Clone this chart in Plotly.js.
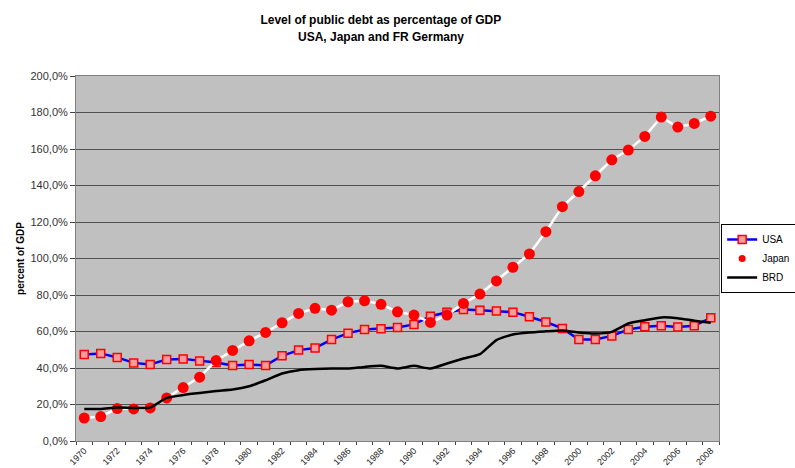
<!DOCTYPE html>
<html>
<head>
<meta charset="utf-8">
<script src="https://cdn.plot.ly/plotly-3.0.1.min.js"></script>
<style>html,body{margin:0;padding:0;background:#fff;}#chart{width:795px;height:468px;}</style>
</head>
<body>
<div id="chart"></div>
<script>
const years = [1970,1971,1972,1973,1974,1975,1976,1977,1978,1979,1980,1981,1982,1983,1984,1985,1986,1987,1988,1989,1990,1991,1992,1993,1994,1995,1996,1997,1998,1999,2000,2001,2002,2003,2004,2005,2006,2007,2008];
const usa = [47.4,48.0,45.8,42.8,41.9,44.7,45.0,43.9,43.0,41.4,41.9,41.4,46.7,49.8,51.0,55.6,59.1,61.1,61.5,62.2,63.9,68.4,70.5,72.1,71.7,71.2,70.6,68.1,65.2,61.7,55.6,55.6,57.6,61.1,62.6,63.1,62.4,63.1,67.5];
const japan = [12.6,13.4,17.8,17.6,18.1,23.6,29.3,35.0,44.1,49.6,54.9,59.5,64.8,69.9,72.7,71.7,76.3,76.8,74.9,70.8,69.0,65.0,69.0,75.4,80.5,87.7,95.2,102.5,114.7,128.4,136.7,145.3,154.1,159.4,166.9,177.5,172.0,174.0,178.0];
const brd = [17.6,17.6,18.3,18.1,18.3,23.6,25.2,26.3,27.4,28.2,30.0,33.3,37.0,38.8,39.4,39.7,39.7,40.6,41.2,39.7,41.2,39.7,42.5,45.2,47.6,55.3,58.4,59.5,60.1,60.6,59.5,58.9,59.8,64.4,66.2,67.7,67.3,65.9,64.8];
const yTickVals = [0,20,40,60,80,100,120,140,160,180,200];
const yTickText = ["0,0%","20,0%","40,0%","60,0%","80,0%","100,0%","120,0%","140,0%","160,0%","180,0%","200,0%"];
const xTickVals = [1970,1972,1974,1976,1978,1980,1982,1984,1986,1988,1990,1992,1994,1996,1998,2000,2002,2004,2006,2008];
const xTickText = xTickVals.map(String);
const titleLine1 = 'Level of public debt as percentage of GDP';
const titleLine2 = 'USA, Japan and FR Germany';

const usaMarker = {symbol: 'square', size: 8, color: '#FF9A9A', line: {color: '#FF0000', width: 1.5}};
const traces = [
  {x: years, y: usa, name: 'USA', type: 'scatter', mode: 'lines+markers', legendrank: 1,
   line: {color: '#0000FF', width: 2.5}, marker: usaMarker},
  {x: years, y: japan, name: 'Japan', type: 'scatter', mode: 'lines+markers', showlegend: false,
   line: {color: '#FFFFFF', width: 2.5},
   marker: {symbol: 'circle', size: 11, color: '#FF0000'}},
  {x: [null], y: [null], name: 'Japan', type: 'scatter', mode: 'markers', legendrank: 2,
   marker: {symbol: 'circle', size: 7, color: '#FF0000'}},
  {x: years, y: brd, name: 'BRD', type: 'scatter', mode: 'lines', legendrank: 3,
   line: {color: '#000000', width: 2.5, shape: 'spline', smoothing: 0.5}}
];

const layout = {
  width: 795, height: 468,
  margin: {l: 76, r: 76, t: 76, b: 27, autoexpand: false},
  paper_bgcolor: '#FFFFFF',
  plot_bgcolor: '#C0C0C0',
  font: {family: 'Liberation Sans, Arial, sans-serif', size: 11, color: '#222'},
  title: {text: '<b>' + titleLine1 + '</b>', font: {size: 12, color: '#000'},
          x: 0.479, xanchor: 'center', y: 1 - 20/468, yanchor: 'middle'},
  annotations: [{text: '<b>' + titleLine2 + '</b>', xref: 'paper', yref: 'paper', x: 0.474, y: 1 + 39/365,
                 xanchor: 'center', yanchor: 'middle', showarrow: false, font: {size: 12, color: '#000'}}],
  showlegend: true,
  legend: {x: 1.12, xanchor: 'right', y: 0.5, yanchor: 'middle', bgcolor: '#FFFFFF',
           bordercolor: '#000000', borderwidth: 1, font: {size: 10, color: '#000'},
           tracegroupgap: 0, itemwidth: 30, traceorder: 'normal'},
  xaxis: {range: [1969.5, 2008.5], tickvals: xTickVals, ticktext: xTickText, tickangle: -45,
          ticks: '', showgrid: false, zeroline: false, showline: true, linecolor: '#808080',
          linewidth: 1, mirror: true, tickfont: {size: 9, color: '#222'},
          minor: {tick0: 1969.5, dtick: 1, ticks: 'outside', ticklen: 3, tickcolor: '#444', showgrid: false}},
  yaxis: {range: [0, 200], tickvals: yTickVals, ticktext: yTickText, ticks: 'outside', ticklen: 5,
          tickcolor: '#444', showgrid: true, gridcolor: '#505050', gridwidth: 1, zeroline: false,
          showline: true, linecolor: '#808080', linewidth: 1, mirror: true,
          tickfont: {size: 11, color: '#333'},
          title: {text: '<b>percent of GDP</b>', font: {size: 10, color: '#000'}, standoff: 3}}
};

Plotly.newPlot('chart', traces, layout, {displayModeBar: false, staticPlot: true});
</script>
</body>
</html>
